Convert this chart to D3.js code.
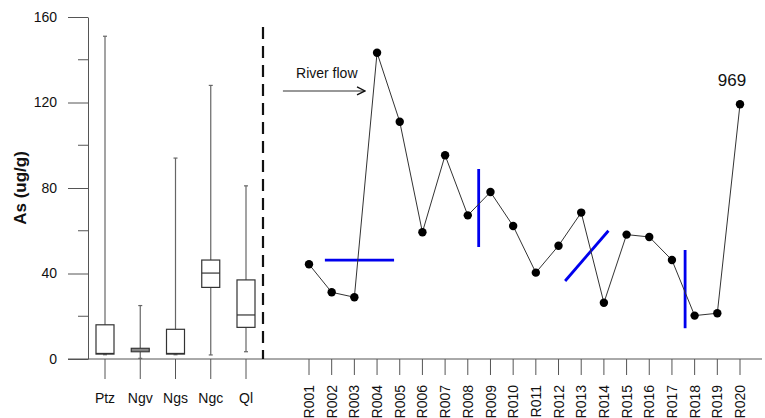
<!DOCTYPE html>
<html>
<head>
<meta charset="utf-8">
<script src="https://cdn.jsdelivr.net/npm/d3@7"></script>
<style>
  html, body { margin: 0; padding: 0; background: #fff; }
  svg { display: block; font-family: "Liberation Sans", Arial, sans-serif; }
</style>
</head>
<body>
<svg id="chart" width="765" height="418"></svg>
<script>
// Summary statistics of As for each geological unit (box plots)
const boxCats   = ["Ptz", "Ngv", "Ngs", "Ngc", "Ql"];
const boxMin    = [2.0, 0.3, 2.0, 1.9, 3.4];
const boxQ1     = [2.3, 3.4, 2.3, 33.5, 14.8];
const boxMedian = [2.6, 4.2, 2.6, 40.2, 20.6];
const boxQ3     = [16.0, 5.0, 13.9, 46.3, 37.0];
const boxMax    = [151, 25, 94, 128, 81];

// River sediment samples along the flow direction
const sites  = ["R001","R002","R003","R004","R005","R006","R007","R008","R009","R010",
                "R011","R012","R013","R014","R015","R016","R017","R018","R019","R020"];
const siteAs = [44.3, 31.2, 28.9, 143.3, 111, 59.3, 95.3, 67.2, 78.1, 62.2,
                40.4, 53.0, 68.5, 26.3, 58.2, 57.1, 46.3, 20.3, 21.4, 969];

// Axis ticks
const yMajorTicks = [0, 40, 80, 120, 160];
const yMinorTicks = [20, 60, 100, 140];

// Values beyond the axis are drawn at this level and labelled with their real value
const offScaleLevel = 119.2;

// Boundary markers between river reaches: [x0, y0, x1, y1] in (site index, As)
const reachMarks = [
  [0.70, 46.3, 3.75, 46.3],
  [7.48, 88.9, 7.48, 52.4],
  [11.29, 36.5, 13.2, 60.0],
  [16.58, 51.0, 16.58, 14.4]
];

const svg = d3.select("#chart");

const y = d3.scaleLinear().domain([0, 160]).range([359, 17]);
const xBox = d3.scalePoint().domain(boxCats).range([105, 246]);
const xSite = d3.scalePoint().domain(sites).range([309, 740]);
const xIdx = i => xSite(sites[0]) + i * xSite.step();
const plotVal = v => (v > y.domain()[1] ? offScaleLevel : v);

const axisColor = "#555";

// ---- Y axis ----
const yAxis = svg.append("g").attr("transform", "translate(88,0)")
  .call(d3.axisLeft(y).tickValues(yMajorTicks).tickSize(20).tickPadding(11).tickSizeOuter(0));
yAxis.select(".domain").attr("stroke", axisColor);
yAxis.selectAll(".tick line").attr("stroke", axisColor);
yAxis.selectAll(".tick text").attr("fill", "#111").style("font-size", "14px")
  .style("font-family", "'Liberation Sans', Arial, sans-serif");

svg.append("g").selectAll("line").data(yMinorTicks).join("line")
  .attr("x1", 78).attr("x2", 88)
  .attr("y1", d => y(d)).attr("y2", d => y(d))
  .attr("stroke", axisColor);

svg.append("text")
  .attr("transform", `translate(20,${y(80)}) rotate(-90)`)
  .attr("text-anchor", "middle").attr("dy", "0.35em")
  .style("font-size", "17px").style("font-weight", "bold").attr("fill", "#111")
  .text("As (ug/g)");

// ---- Baseline ----
svg.append("line")
  .attr("x1", 68).attr("x2", 762).attr("y1", y(0)).attr("y2", y(0))
  .attr("stroke", axisColor);

// ---- Box plot category ticks and labels ----
const gBoxAxis = svg.append("g");
gBoxAxis.selectAll("line").data(boxCats).join("line")
  .attr("x1", d => xBox(d)).attr("x2", d => xBox(d))
  .attr("y1", y(0)).attr("y2", y(0) + 20)
  .attr("stroke", axisColor);
gBoxAxis.selectAll("text").data(boxCats).join("text")
  .attr("x", d => xBox(d)).attr("y", 403)
  .attr("text-anchor", "middle").style("font-size", "14px").attr("fill", "#111")
  .text(d => d);

// ---- Box plots ----
const boxW = 18;
const boxes = svg.append("g").selectAll("g").data(boxCats).join("g");
boxes.append("line") // whisker
  .attr("x1", d => xBox(d)).attr("x2", d => xBox(d))
  .attr("y1", (d, i) => y(boxMin[i])).attr("y2", (d, i) => y(boxMax[i]))
  .attr("stroke", "#666").attr("stroke-width", 1.2);
boxes.append("line") // upper cap
  .attr("x1", d => xBox(d) - 2).attr("x2", d => xBox(d) + 2)
  .attr("y1", (d, i) => y(boxMax[i])).attr("y2", (d, i) => y(boxMax[i]))
  .attr("stroke", "#666").attr("stroke-width", 1.2);
boxes.append("line") // lower cap
  .attr("x1", d => xBox(d) - 2).attr("x2", d => xBox(d) + 2)
  .attr("y1", (d, i) => y(boxMin[i])).attr("y2", (d, i) => y(boxMin[i]))
  .attr("stroke", "#666").attr("stroke-width", 1.2);
boxes.append("rect")
  .attr("x", d => xBox(d) - boxW / 2).attr("width", boxW)
  .attr("y", (d, i) => y(boxQ3[i]))
  .attr("height", (d, i) => y(boxQ1[i]) - y(boxQ3[i]))
  .attr("fill", "#fff").attr("stroke", "#333").attr("stroke-width", 1.2);
boxes.append("line") // median
  .attr("x1", d => xBox(d) - boxW / 2).attr("x2", d => xBox(d) + boxW / 2)
  .attr("y1", (d, i) => y(boxMedian[i])).attr("y2", (d, i) => y(boxMedian[i]))
  .attr("stroke", "#333").attr("stroke-width", 1.2);

// ---- Panel separator ----
svg.append("line")
  .attr("x1", 263).attr("x2", 263).attr("y1", 27).attr("y2", y(0))
  .attr("stroke", "#111").attr("stroke-width", 2.2)
  .attr("stroke-dasharray", "12,7");

// ---- Site axis ----
const gSiteAxis = svg.append("g");
gSiteAxis.selectAll("line").data(sites).join("line")
  .attr("x1", d => xSite(d)).attr("x2", d => xSite(d))
  .attr("y1", y(0)).attr("y2", y(0) + 16)
  .attr("stroke", axisColor);
gSiteAxis.selectAll("text").data(sites).join("text")
  .attr("transform", d => `translate(${xSite(d)},385) rotate(-90)`)
  .attr("text-anchor", "end").attr("dy", "0.36em")
  .style("font-size", "14px").attr("fill", "#111")
  .text(d => d);

// ---- Reach boundary markers ----
svg.append("g").selectAll("line").data(reachMarks).join("line")
  .attr("x1", d => xIdx(d[0])).attr("y1", d => y(d[1]))
  .attr("x2", d => xIdx(d[2])).attr("y2", d => y(d[3]))
  .attr("stroke", "#0000ee").attr("stroke-width", 2.8);

// ---- Site series ----
const line = d3.line()
  .x((d, i) => xSite(sites[i]))
  .y(d => y(plotVal(d)));
svg.append("path").datum(siteAs)
  .attr("d", line).attr("fill", "none")
  .attr("stroke", "#333").attr("stroke-width", 1);
svg.append("g").selectAll("circle").data(siteAs).join("circle")
  .attr("cx", (d, i) => xSite(sites[i])).attr("cy", d => y(plotVal(d)))
  .attr("r", 4.2).attr("fill", "#000");

// Label for off-scale value
svg.append("g").selectAll("text")
  .data(siteAs.map((v, i) => ({ v, i })).filter(d => d.v > y.domain()[1]))
  .join("text")
  .attr("x", d => xSite(sites[d.i]) - 8).attr("y", d => y(plotVal(d.v)) - 18)
  .attr("text-anchor", "middle").style("font-size", "17px").attr("fill", "#111")
  .text(d => d.v);

// ---- River flow annotation ----
const arrowY = y(125.4);
const defs = svg.append("defs");
defs.append("marker").attr("id", "arrowhead")
  .attr("viewBox", "0 0 10 10").attr("refX", 9).attr("refY", 5)
  .attr("markerWidth", 10).attr("markerHeight", 10)
  .attr("markerUnits", "userSpaceOnUse").attr("orient", "auto")
  .append("path").attr("d", "M1,1 L9,5 L1,9")
  .attr("fill", "none").attr("stroke", "#111").attr("stroke-width", 1.4);
svg.append("line")
  .attr("x1", xIdx(-1.15)).attr("x2", xIdx(2.47))
  .attr("y1", arrowY).attr("y2", arrowY)
  .attr("stroke", "#333").attr("stroke-width", 1.1)
  .attr("marker-end", "url(#arrowhead)");
svg.append("text")
  .attr("x", xIdx(-0.57)).attr("y", y(131.5))
  .style("font-size", "14px").attr("fill", "#111")
  .text("River flow");
</script>
</body>
</html>
